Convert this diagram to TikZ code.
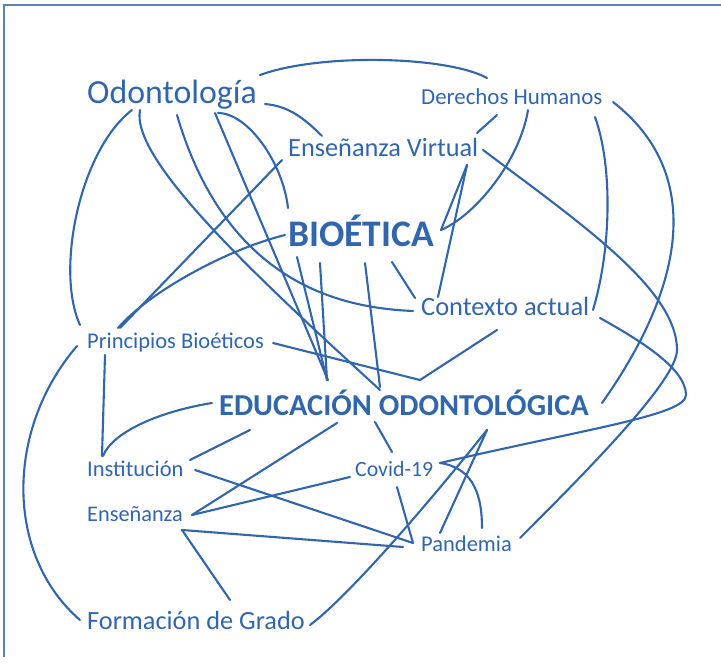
\documentclass[tikz,border=0pt]{standalone}
\usepackage{fontspec}
\setmainfont{Carlito}
\usepackage{tikz}
\usetikzlibrary{calc}
\definecolor{inkblue}{RGB}{50,102,172}
\definecolor{framecolor}{RGB}{92,128,186}
\tikzset{
  lbl/.style={anchor=base west, inner sep=0pt, text=inkblue},
  link/.style={draw=inkblue, line width=2.1pt, line cap=round},
}
\begin{document}
\begin{tikzpicture}[x=1pt, y=-1pt]
\useasboundingbox (0,0) rectangle (721,666);
\fill[white] (0,0) rectangle (721,666);
\draw[framecolor, line width=2pt] (4,657) -- (4,5) -- (721,5);
% terms
\node[lbl, font=\fontsize{33.8}{34}\selectfont] (odo) at (87,104) {Odontología};
\node[lbl, font=\fontsize{22.9}{23}\selectfont] (der) at (421,105) {Derechos Humanos};
\node[lbl, font=\fontsize{26.3}{26}\selectfont] (ensv) at (288,157) {Enseñanza Virtual};
\node[lbl, font=\fontsize{37.5}{38}\selectfont\bfseries] (bio) at (288,247) {BIOÉTICA};
\node[lbl, font=\fontsize{26.4}{26}\selectfont] (ctx) at (421,316) {Contexto actual};
\node[lbl, font=\fontsize{22.5}{22}\selectfont] (pri) at (87,348) {Principios Bioéticos};
\node[lbl, font=\fontsize{30.4}{30}\selectfont\bfseries] (edu) at (219,415) {EDUCACIÓN ODONTOLÓGICA};
\node[lbl, font=\fontsize{22.5}{22}\selectfont] (inst) at (87,476) {Institución};
\node[lbl, font=\fontsize{21.8}{22}\selectfont] (cov) at (355,476) {Covid-19};
\node[lbl, font=\fontsize{22.3}{22}\selectfont] (ens) at (87,521) {Enseñanza};
\node[lbl, font=\fontsize{22.5}{22}\selectfont] (pan) at (421,551) {Pandemia};
\node[lbl, font=\fontsize{26.3}{26}\selectfont] (form) at (87,629) {Formación de Grado};
% links from Odontologia
\draw[link] ($(odo.base west)+(173,-29)$) .. controls +(60,-22) and +(-40,-22) .. ($(der.base west)+(66,-27)$);
\draw[link] ($(odo.base west)+(178,0)$) .. controls +(22,2) and +(-20,-20) .. ($(ensv.base west)+(34,-21)$);
\draw[link] ($(odo.base west)+(45,6)$) .. controls +(-52,40) and +(-25,-55) .. ($(pri.base west)+(-7,-23)$);
\draw[link] ($(odo.base west)+(53,6)$) .. controls +(-10,50) and +(-120,-110) .. ($(edu.base west)+(161,-25)$);
\draw[link] ($(odo.base west)+(90,11)$) .. controls +(50,170) and +(-70,-3) .. ($(ctx.base west)+(-8,-5)$);
\draw[link] ($(odo.base west)+(128,9)$) -- ($(edu.base west)+(109,-35)$);
\draw[link] ($(odo.base west)+(131,9)$) .. controls +(30,0) and +(-5,-45) .. ($(bio.base west)+(0,-39)$);
% links from Derechos Humanos
\draw[link] ($(der.base west)+(76,10)$) -- ($(ensv.base west)+(189,-24)$);
\draw[link] ($(der.base west)+(107,5)$) .. controls +(-8,50) and +(35,-15) .. ($(bio.base west)+(153,-17)$);
\draw[link] ($(der.base west)+(174,12)$) .. controls +(18,50) and +(18,-60) .. ($(ctx.base west)+(172,-6)$);
\draw[link] ($(der.base west)+(192,-3)$) .. controls +(90,70) and +(85,-120) .. ($(edu.base west)+(383,-12)$);
% links from Ensenanza Virtual
\draw[link] ($(ensv.base west)+(-6,3)$) -- ($(pri.base west)+(33,-20)$);
\draw[link] ($(ensv.base west)+(179,8)$) -- ($(bio.base west)+(153,-17)$);
\draw[link] ($(ensv.base west)+(179,8)$) -- ($(ctx.base west)+(17,-19)$);
\draw[link] ($(ensv.base west)+(195,-7)$) .. controls +(100,75) and +(0,-60) .. ++(194,200)
  .. controls +(0,30) and +(70,-70) .. ($(pan.base west)+(99,-13)$);
% links from Bioetica
\draw[link] ($(bio.base west)+(-3,-12)$) .. controls +(-60,15) and +(30,-35) .. ($(pri.base west)+(31,-20)$);
\draw[link] ($(bio.base west)+(9,10)$) -- ($(edu.base west)+(108,-35)$);
\draw[link] ($(bio.base west)+(32,16)$) -- ($(edu.base west)+(108,-35)$);
\draw[link] ($(bio.base west)+(77,16)$) -- ($(edu.base west)+(161,-28)$);
\draw[link] ($(bio.base west)+(104,15)$) -- ($(ctx.base west)+(-6,-18)$);
% links from Contexto actual
\draw[link] ($(ctx.base west)+(76,14)$) -- ($(edu.base west)+(201,-35)$);
\draw[link] ($(ctx.base west)+(179,2)$) .. controls +(45,25) and +(0,-25) .. ++(86,77)
  .. controls +(0,20) and +(150,-35) .. ($(cov.base west)+(85,-13)$);
% links from Principios Bioeticos
\draw[link] ($(pri.base west)+(186,-5)$) -- ($(edu.base west)+(201,-35)$);
\draw[link] ($(pri.base west)+(18,7)$) -- ($(inst.base west)+(15,-20)$);
\draw[link] ($(pri.base west)+(-10,-2)$) .. controls +(-72,84) and +(-75,-65) .. ($(form.base west)+(-7,-9)$);
% links from Educacion Odontologica
\draw[link] ($(edu.base west)+(156,7)$) -- ($(cov.base west)+(37,-24)$);
\draw[link] ($(edu.base west)+(118,8)$) -- ($(ens.base west)+(105,-6)$);
\draw[link] ($(edu.base west)+(31,15)$) -- ($(inst.base west)+(103,-16)$);
\draw[link] ($(edu.base west)+(-7,-12)$) .. controls +(-50,8) and +(10,-25) .. ($(inst.base west)+(16,-20)$);
\draw[link] ($(edu.base west)+(268,15)$) .. controls +(-80,100) and +(30,-22) .. ($(form.base west)+(223,-4)$);
\draw[link] ($(edu.base west)+(268,15)$) -- ($(pan.base west)+(19,-18)$);
% lower links
\draw[link] ($(cov.base west)+(85,-13)$) .. controls +(35,5) and +(0,-30) .. ($(pan.base west)+(61,-23)$);
\draw[link] ($(cov.base west)+(42,11)$) -- ($(pan.base west)+(-8,-8)$);
\draw[link] ($(inst.base west)+(108,-6)$) -- ($(pan.base west)+(-8,-8)$);
\draw[link] ($(ens.base west)+(105,-6)$) -- ($(cov.base west)+(-5,1)$);
\draw[link] ($(ens.base west)+(95,9)$) -- ($(pan.base west)+(-18,-4)$);
\draw[link] ($(ens.base west)+(95,9)$) -- ($(form.base west)+(143,-29)$);
\end{tikzpicture}
\end{document}
